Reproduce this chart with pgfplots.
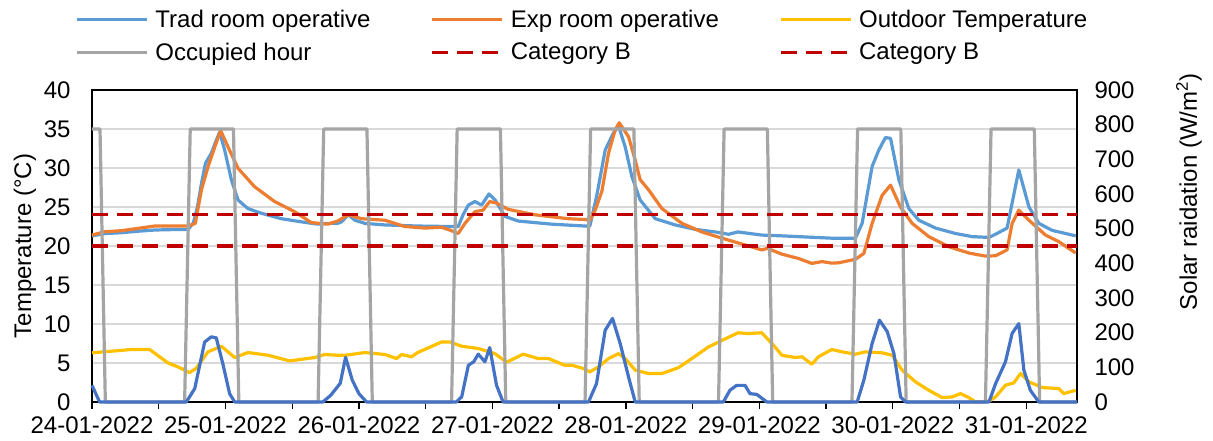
\documentclass[border=0pt]{standalone}
\usepackage{fontspec}
\setmainfont{Liberation Sans}
\usepackage{pgfplots}
\pgfplotsset{compat=1.18}

\definecolor{trad}{HTML}{5B9BD5}
\definecolor{expc}{HTML}{ED7D31}
\definecolor{outd}{HTML}{FFC000}
\definecolor{occ}{HTML}{A5A5A5}
\definecolor{catb}{HTML}{C00000}
\definecolor{solar}{HTML}{4472C4}
\definecolor{gridc}{HTML}{D9D9D9}

\newcommand{\chartfont}{\fontsize{24}{28}\selectfont}

\pgfplotsset{
  chart/.style={
    at={(92pt,39pt)}, anchor=origin, scale only axis,
    width=985pt, height=312pt,
    xmin=0, xmax=7.38, ymin=0, clip=false,
    tick label style={font=\chartfont},
    label style={font=\chartfont},
    /pgf/number format/assume math mode=true,
  },
  series/.style={line width=3.2pt, line join=round, mark=none},
}

\begin{document}
\begin{tikzpicture}

% temperatures (left axis)
\begin{axis}[chart,
  ymax=40, ytick={0,5,...,40},
  ymajorgrids, grid style={gridc, line width=1.3pt},
  axis line style={black, line width=1.3pt},
  xtick={0,0.5,...,7},
  xticklabels={24-01-2022,,25-01-2022,,26-01-2022,,27-01-2022,,28-01-2022,,29-01-2022,,30-01-2022,,31-01-2022},
  xtick pos=left, ytick pos=left,
  tick align=outside, major tick length=7pt,
  xtick style={black, line width=1.3pt},
  ytick style={draw=none},
  yticklabel style={xshift=-11pt},
  xticklabel style={yshift=-4pt},
  ylabel={Temperature (°C)},
  ylabel style={at={(axis description cs:-0.068,0.5)}, anchor=center},
  legend columns=3,
  legend cell align=left,
  legend image code/.code={\draw[#1] (0pt,0pt) -- (70pt,0pt);},
  legend style={draw=none, fill=none, font=\chartfont,
    at={(axis description cs:-0.0203,1.27)}, anchor=north west,
    nodes={inner sep=2pt},
    /tikz/every odd column/.append style={column sep=5pt},
    /tikz/every even column/.append style={column sep=58pt},
    row sep=10pt},
]
\addplot[series, trad] coordinates {
(0.0,21.3) (0.1,21.6) (0.22,21.7) (0.35,21.9) (0.47,22.05) (0.6,22.1) (0.72,22.1)
(0.76,23.0) (0.79,25.0) (0.82,28.0) (0.85,30.6) (0.894,31.9) (0.93,33.5) (0.956,34.6)
(0.994,32.3) (1.044,28.5) (1.094,25.9) (1.168,24.8) (1.268,24.2) (1.418,23.5) (1.568,23.1)
(1.69,22.8) (1.77,22.9) (1.84,22.9) (1.87,23.1) (1.92,24.0) (1.97,23.3) (2.045,22.9)
(2.195,22.7) (2.44,22.56) (2.67,22.5) (2.744,22.5) (2.78,24.0) (2.82,25.25) (2.869,25.7)
(2.919,25.25) (2.974,26.67) (3.02,25.9) (3.094,23.8) (3.193,23.2) (3.443,22.8) (3.693,22.56)
(3.73,22.56) (3.78,26.3) (3.845,32.3) (3.907,34.5) (3.945,35.4) (3.995,32.7) (4.045,28.9)
(4.107,25.9) (4.22,23.5) (4.37,22.7) (4.52,22.13) (4.67,21.8) (4.77,21.5) (4.84,21.8)
(5.018,21.4) (5.168,21.3) (5.293,21.2) (5.543,21.0) (5.72,21.0) (5.77,22.9) (5.845,30.2)
(5.895,32.3) (5.945,33.9) (5.983,33.8) (6.045,28.5) (6.12,24.8) (6.195,23.3) (6.32,22.3)
(6.47,21.6) (6.595,21.2) (6.72,21.1) (6.78,21.6) (6.856,22.3) (6.944,29.75) (7.02,25.0)
(7.094,22.9) (7.194,22.0) (7.37,21.3)
};
\addlegendentry{Trad room operative}

\addplot[series, expc] coordinates {
(0.0,21.4) (0.095,21.83) (0.22,21.96) (0.47,22.56) (0.72,22.56) (0.774,22.9) (0.82,27.2)
(0.87,30.2) (0.92,32.7) (0.964,34.8) (1.019,32.7) (1.094,29.96) (1.218,27.6) (1.368,25.7)
(1.518,24.4) (1.643,23.0) (1.768,22.8) (1.84,23.2) (1.92,24.0) (2.02,23.5) (2.195,23.3)
(2.344,22.5) (2.494,22.3) (2.62,22.4) (2.694,21.96) (2.744,21.6) (2.794,22.9) (2.869,24.4)
(2.93,24.6) (2.98,25.7) (3.031,25.5) (3.118,24.7) (3.318,24.0) (3.568,23.5) (3.693,23.4)
(3.73,23.3) (3.77,24.6) (3.82,27.0) (3.87,31.9) (3.92,34.9) (3.95,35.8) (4.02,34.0)
(4.07,31.0) (4.107,28.5) (4.17,27.2) (4.27,24.8) (4.42,22.9) (4.57,21.8) (4.72,21.0)
(4.87,20.25) (5.018,19.5) (5.06,19.7) (5.168,18.96) (5.293,18.4) (5.393,17.77) (5.47,18.0)
(5.543,17.8) (5.596,17.85) (5.72,18.3) (5.783,19.05) (5.845,22.9) (5.92,26.5) (5.983,27.8)
(6.057,25.0) (6.145,22.9) (6.27,21.2) (6.42,19.9) (6.57,19.1) (6.695,18.7) (6.77,18.75)
(6.856,19.5) (6.894,22.9) (6.944,24.6) (7.02,23.3) (7.144,21.4) (7.244,20.55) (7.37,19.1)
};
\addlegendentry{Exp room operative}

\addplot[series, outd] coordinates {
(0.0,6.3) (0.295,6.73) (0.432,6.73) (0.57,5.0) (0.644,4.5) (0.73,3.77) (0.78,4.3)
(0.869,6.43) (0.969,7.15) (1.069,5.7) (1.168,6.34) (1.318,6.0) (1.48,5.27) (1.668,5.7)
(1.743,6.09) (1.84,6.0) (1.9,6.0) (2.045,6.34) (2.195,6.09) (2.282,5.57) (2.32,6.09)
(2.394,5.8) (2.44,6.34) (2.62,7.7) (2.68,7.7) (2.77,7.15) (2.894,6.86) (3.019,6.2)
(3.106,5.1) (3.231,6.13) (3.343,5.57) (3.42,5.57) (3.543,4.7) (3.6,4.7) (3.68,4.3)
(3.73,3.86) (3.795,4.5) (3.87,5.57) (3.945,6.2) (3.995,5.57) (4.07,4.08) (4.17,3.65)
(4.27,3.65) (4.394,4.4) (4.494,5.57) (4.62,7.07) (4.72,7.9) (4.84,8.87) (4.92,8.78)
(5.018,8.87) (5.106,7.28) (5.168,6.0) (5.268,5.7) (5.32,5.8) (5.393,4.84) (5.443,5.8)
(5.543,6.73) (5.62,6.43) (5.72,6.13) (5.796,6.43) (5.92,6.3) (5.995,6.0) (6.07,4.08)
(6.17,2.58) (6.27,1.5) (6.37,0.56) (6.445,0.65) (6.507,1.08) (6.57,0.56) (6.62,0.0)
(6.72,0.1) (6.77,0.65) (6.844,2.15) (6.906,2.45) (6.957,3.65) (7.02,2.58) (7.12,1.85)
(7.244,1.72) (7.28,1.08) (7.37,1.5)
};
\addlegendentry{Outdoor Temperature}

\addplot[series, occ] coordinates {
(0,35) (0.06,35) (0.10,0)
(0.694,0) (0.736,35) (1.06,35) (1.10,0)
(1.694,0) (1.736,35) (2.06,35) (2.10,0)
(2.694,0) (2.736,35) (3.06,35) (3.10,0)
(3.694,0) (3.736,35) (4.06,35) (4.10,0)
(4.694,0) (4.736,35) (5.06,35) (5.10,0)
(5.694,0) (5.736,35) (6.06,35) (6.10,0)
(6.694,0) (6.736,35) (7.06,35) (7.10,0) (7.38,0)
};
\addlegendentry{Occupied hour}

\addplot[series, catb, dash pattern=on 16pt off 9pt, line cap=butt] coordinates {(0,24) (7.38,24)};
\addlegendentry{Category B}
\addplot[series, catb, dash pattern=on 16pt off 9pt, line cap=butt] coordinates {(0,20) (7.38,20)};
\addlegendentry{Category B}
\end{axis}

% solar radiation (right axis)
\begin{axis}[chart,
  ymax=900, ytick={0,100,...,900},
  axis x line=none, axis y line*=right,
  y axis line style={draw=none},
  ytick style={draw=none}, major tick length=0pt,
  yticklabel style={xshift=14pt},
  ylabel={Solar raidation (W/m\textsuperscript{2})},
  ylabel style={at={(axis description cs:1.1137,0.673)}, anchor=center},
]
\addplot[series, solar] coordinates {
(0,48) (0.057,0) (0.707,0) (0.77,39) (0.844,173) (0.894,188) (0.931,185) (0.98,111)
(1.031,24) (1.069,0) (1.73,0) (1.79,20) (1.86,54) (1.9,129) (1.95,63) (2.0,24) (2.057,0)
(2.73,0) (2.77,15) (2.82,106) (2.86,116) (2.894,138) (2.944,116) (2.98,157) (3.031,48)
(3.08,0) (3.72,0) (3.78,53) (3.845,207) (3.9,241) (3.957,169) (4.02,72) (4.07,0)
(4.73,0) (4.78,34) (4.83,48) (4.893,48) (4.93,24) (4.98,22) (5.056,0)
(5.733,0) (5.783,63) (5.845,169) (5.9,236) (5.958,203) (6.008,140) (6.058,15) (6.095,0)
(6.72,0) (6.77,53) (6.844,116) (6.894,198) (6.944,226) (6.982,92) (7.03,34) (7.094,0)
(7.38,0)
};
\end{axis}

\pgfresetboundingbox
\path[use as bounding box] (0pt,0pt) rectangle (1213pt,441pt);
\end{tikzpicture}
\end{document}
